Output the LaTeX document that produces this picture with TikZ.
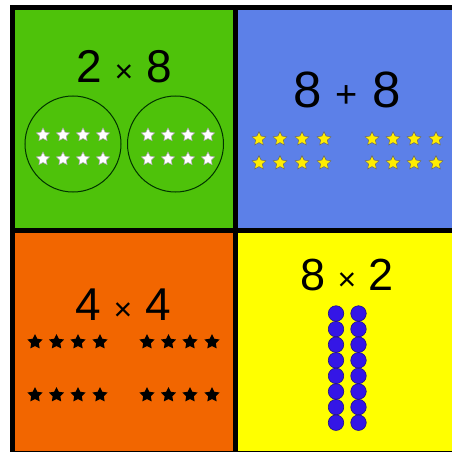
\documentclass[tikz,border=0pt]{standalone}
\usepackage{fontspec}
\setmainfont{Liberation Sans}
\usetikzlibrary{shapes.geometric}
\definecolor{cgreen}{RGB}{78,194,10}
\definecolor{cblue}{RGB}{92,128,232}
\definecolor{corange}{RGB}{242,102,0}
\definecolor{cyellow}{RGB}{255,255,0}
\definecolor{cdot}{RGB}{52,22,230}
\newcommand{\opsign}[2]{{\fontsize{#1}{#1}\selectfont #2}}
\begin{document}
\begin{tikzpicture}[
  x=1pt, y=-1pt,
  sum/.style={anchor=base, inner sep=0, font=\fontsize{#1}{#1}\selectfont},
  starbox/.style={star, star points=5, star point ratio=2.0, inner sep=0, minimum size=#1},
  whitestar/.style={starbox=14pt, fill=white, draw=gray!70, line width=0.5pt},
  goldstar/.style={starbox=14.5pt, fill=yellow!95!orange, draw=black!60, line width=0.5pt},
  blackstar/.style={starbox=16pt, fill=black},
  bead/.style={circle, inner sep=0, minimum size=15.5pt, fill=cdot, draw=cdot!60!black, line width=0.6pt}
]
\useasboundingbox (0,0) rectangle (452,452);
\clip (0,0) rectangle (452,452);
\fill[cgreen] (12.5,7.5) rectangle (235.5,230.5);
\fill[cblue] (235.5,7.5) rectangle (460,230.5);
\fill[corange] (12.5,230.5) rectangle (235.5,460);
\fill[cyellow] (235.5,230.5) rectangle (460,460);
\draw[line width=5pt] (12.5,7.5) rectangle (458,453);
\draw[line width=5pt] (235.5,7.5) -- (235.5,453);
\draw[line width=5pt] (12.5,230.5) -- (458,230.5);

\node[sum=46] (t1) at (124,82) {2 \opsign{32}{×} 8};
\node[sum=51] (t2) at (347,107) {8 \opsign{38}{+} 8};
\node[sum=46] (t3) at (123,320) {4 \opsign{32}{×} 4};
\node[sum=45] (t4) at (347,290) {8 \opsign{32}{×} 2};

\node[circle, draw=black!80!green, line width=1pt, minimum size=96pt, inner sep=0] (g1) at (73,144) {};
\node[circle, draw=black!80!green, line width=1pt, minimum size=96pt, inner sep=0] (g2) at (175.5,144) {};
\foreach \x [count=\i] in {43,63,83,103} {
  \node[whitestar] (wa-\i) at (\x,135) {};
  \node[whitestar] (wb-\i) at (\x,159) {};
}
\foreach \x [count=\i] in {148,168,188,208} {
  \node[whitestar] (wc-\i) at (\x,135) {};
  \node[whitestar] (wd-\i) at (\x,159) {};
}

\foreach \x [count=\i] in {259,280,302,324,372,393,414,436} {
  \node[goldstar] (ya-\i) at (\x,139) {};
  \node[goldstar] (yb-\i) at (\x,163) {};
}

\foreach \x [count=\i] in {35,56.5,78,100,147,168.5,190,212} {
  \node[blackstar] (ka-\i) at (\x,342) {};
  \node[blackstar] (kb-\i) at (\x,395) {};
}

\foreach \j in {0,...,7} {
  \node[bead] (ba-\j) at (336,313.5+15.6*\j) {};
  \node[bead] (bb-\j) at (358.5,313.5+15.6*\j) {};
}
\end{tikzpicture}
\end{document}
